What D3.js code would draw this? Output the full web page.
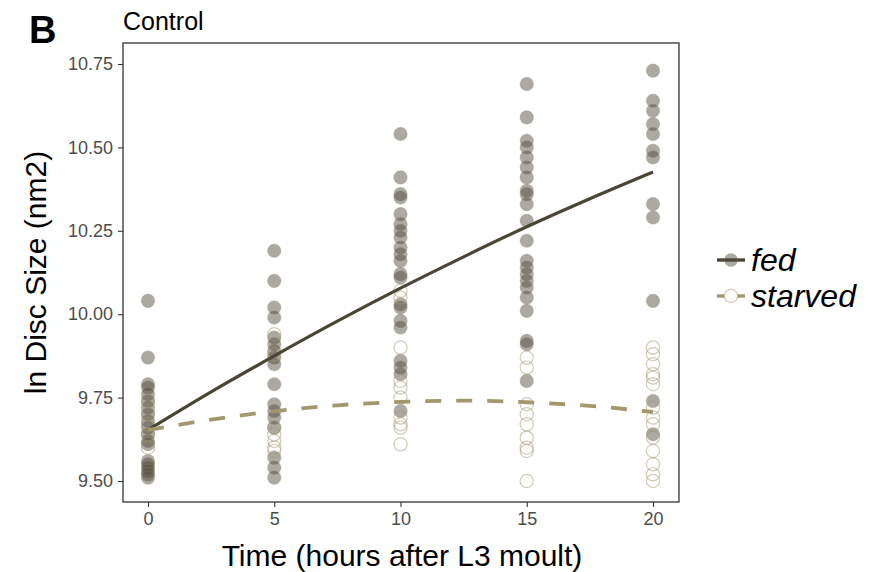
<!DOCTYPE html>
<html>
<head>
<meta charset="utf-8">
<script src="https://cdn.jsdelivr.net/npm/d3@7"></script>
<style>
  body { margin: 0; background: #fff; }
  text { font-family: "Liberation Sans", Arial, sans-serif; }
</style>
</head>
<body>
<script>
// Sampling times (hours)
const times = [0, 5, 10, 15, 20];

// ln disc size per time point, fed larvae
const fedValues = [
  [10.04, 9.87, 9.79, 9.78, 9.76, 9.74, 9.72, 9.70, 9.68, 9.66, 9.64, 9.62, 9.61, 9.56, 9.55, 9.54, 9.53, 9.52, 9.51],
  [10.19, 10.10, 10.02, 9.99, 9.93, 9.91, 9.89, 9.87, 9.85, 9.79, 9.73, 9.71, 9.69, 9.66, 9.57, 9.54, 9.51],
  [10.54, 10.41, 10.36, 10.35, 10.30, 10.27, 10.25, 10.23, 10.20, 10.18, 10.16, 10.12, 10.11, 10.03, 10.02, 9.98, 9.96, 9.86, 9.84, 9.82, 9.71],
  [10.69, 10.59, 10.52, 10.50, 10.47, 10.44, 10.41, 10.37, 10.36, 10.33, 10.28, 10.22, 10.16, 10.14, 10.12, 10.10, 10.08, 10.05, 10.01, 9.92, 9.91, 9.80],
  [10.73, 10.64, 10.61, 10.57, 10.54, 10.49, 10.47, 10.33, 10.29, 10.04, 9.74, 9.64]
];

// ln disc size per time point, starved larvae
const starvedValues = [
  [9.74, 9.70, 9.67, 9.64, 9.60],
  [9.94, 9.88, 9.66, 9.64, 9.62, 9.60, 9.59],
  [10.07, 10.05, 9.90, 9.80, 9.78, 9.75, 9.69, 9.67, 9.66, 9.61],
  [9.87, 9.84, 9.73, 9.70, 9.67, 9.63, 9.60, 9.59, 9.50],
  [9.90, 9.88, 9.85, 9.82, 9.81, 9.79, 9.72, 9.69, 9.67, 9.63, 9.59, 9.55, 9.52, 9.50]
];

// fitted curves
const fitTimes = [0, 2.5, 5, 7.5, 10, 12.5, 15, 17.5, 20];
const fedFit = [9.653, 9.767, 9.875, 9.979, 10.078, 10.172, 10.262, 10.346, 10.426];
const starvedFit = [9.653, 9.684, 9.709, 9.727, 9.737, 9.741, 9.736, 9.725, 9.707];

const yTicks = [9.50, 9.75, 10.00, 10.25, 10.50, 10.75];
const xTicks = [0, 5, 10, 15, 20];

const fedCol = '#4a4535';
const starvedCol = '#a39770';

const W = 871, H = 572;
const panel = {left: 123, top: 43, right: 679, bottom: 502};

const svg = d3.select('body').append('svg')
  .attr('width', W)
  .attr('height', H);

const x = d3.scaleLinear().domain([0, 20]).range([148, 653]);
const y = d3.scaleLinear().domain([9.5, 10.75]).range([481, 64]);

// panel border
svg.append('rect')
  .attr('x', panel.left).attr('y', panel.top)
  .attr('width', panel.right - panel.left)
  .attr('height', panel.bottom - panel.top)
  .attr('fill', 'none')
  .attr('stroke', '#333')
  .attr('stroke-width', 1.3);

// axes
const axeX = d3.axisBottom(x).tickValues(xTicks).tickSize(5).tickPadding(5);
const gx = svg.append('g')
  .attr('transform', `translate(0, ${panel.bottom})`)
  .call(axeX);
const axeY = d3.axisLeft(y).tickValues(yTicks).tickFormat(d3.format('.2f')).tickSize(5).tickPadding(5);
const gy = svg.append('g')
  .attr('transform', `translate(${panel.left}, 0)`)
  .call(axeY);
[gx, gy].forEach(g => {
  g.attr('font-size', null).attr('font-family', null);
  g.select('.domain').remove();
  g.selectAll('line').attr('stroke', '#333').attr('stroke-width', 1.1);
  g.selectAll('text').attr('fill', '#4d4d4d').style('font-size', '18px');
});

// points
function flatten(vals) {
  const out = [];
  vals.forEach((arr, i) => arr.forEach(v => out.push({t: times[i], v: v})));
  return out;
}

svg.append('g').selectAll('circle')
  .data(flatten(fedValues))
  .join('circle')
  .attr('cx', d => x(d.t))
  .attr('cy', d => y(d.v))
  .attr('r', 6.8)
  .attr('fill', '#514c3e')
  .attr('fill-opacity', 0.48)
  .attr('stroke', starvedCol)
  .attr('stroke-opacity', 0.3)
  .attr('stroke-width', 0.8);

svg.append('g').selectAll('circle')
  .data(flatten(starvedValues))
  .join('circle')
  .attr('cx', d => x(d.t))
  .attr('cy', d => y(d.v))
  .attr('r', 6.6)
  .attr('fill', 'none')
  .attr('stroke', starvedCol)
  .attr('stroke-opacity', 0.5)
  .attr('stroke-width', 1.2);

// fitted lines
const line = d3.line()
  .x(d => x(d[0]))
  .y(d => y(d[1]))
  .curve(d3.curveMonotoneX);

svg.append('path')
  .attr('d', line(d3.zip(fitTimes, fedFit)))
  .attr('fill', 'none')
  .attr('stroke', fedCol)
  .attr('stroke-width', 3.2);

svg.append('path')
  .attr('d', line(d3.zip(fitTimes, starvedFit)))
  .attr('fill', 'none')
  .attr('stroke', starvedCol)
  .attr('stroke-width', 3.8)
  .attr('stroke-dasharray', '16,15');

// titles
svg.append('text')
  .attr('x', (panel.left + panel.right) / 2 + 1)
  .attr('y', 566)
  .attr('text-anchor', 'middle')
  .style('font-size', '30px')
  .text('Time (hours after L3 moult)');

svg.append('text')
  .attr('transform', `translate(46, ${(panel.top + panel.bottom) / 2}) rotate(-90)`)
  .attr('text-anchor', 'middle')
  .style('font-size', '30px')
  .text('ln Disc Size (nm2)');

svg.append('text')
  .attr('x', panel.left)
  .attr('y', 30)
  .style('font-size', '25px')
  .text('Control');

svg.append('text')
  .attr('x', 29)
  .attr('y', 43)
  .style('font-size', '38px')
  .style('font-weight', 'bold')
  .text('B');

// legend
const legend = [
  {label: 'fed', y: 260, col: fedCol, filled: true},
  {label: 'starved', y: 296, col: starvedCol, filled: false}
];
const lg = svg.append('g');
legend.forEach(d => {
  lg.append('line')
    .attr('x1', 717).attr('x2', 745)
    .attr('y1', d.y).attr('y2', d.y)
    .attr('stroke', d.col)
    .attr('stroke-width', 3.4);
  lg.append('circle')
    .attr('cx', 731).attr('cy', d.y).attr('r', 6.6)
    .attr('fill', d.filled ? '#514c3e' : '#fff')
    .attr('fill-opacity', d.filled ? 0.48 : 1)
    .attr('stroke', starvedCol)
    .attr('stroke-opacity', d.filled ? 0.3 : 0.5)
    .attr('stroke-width', d.filled ? 0.8 : 1.2);
  lg.append('text')
    .attr('x', 751).attr('y', d.y + 11)
    .style('font-size', '32px')
    .style('font-style', 'italic')
    .text(d.label);
});
</script>
</body>
</html>
